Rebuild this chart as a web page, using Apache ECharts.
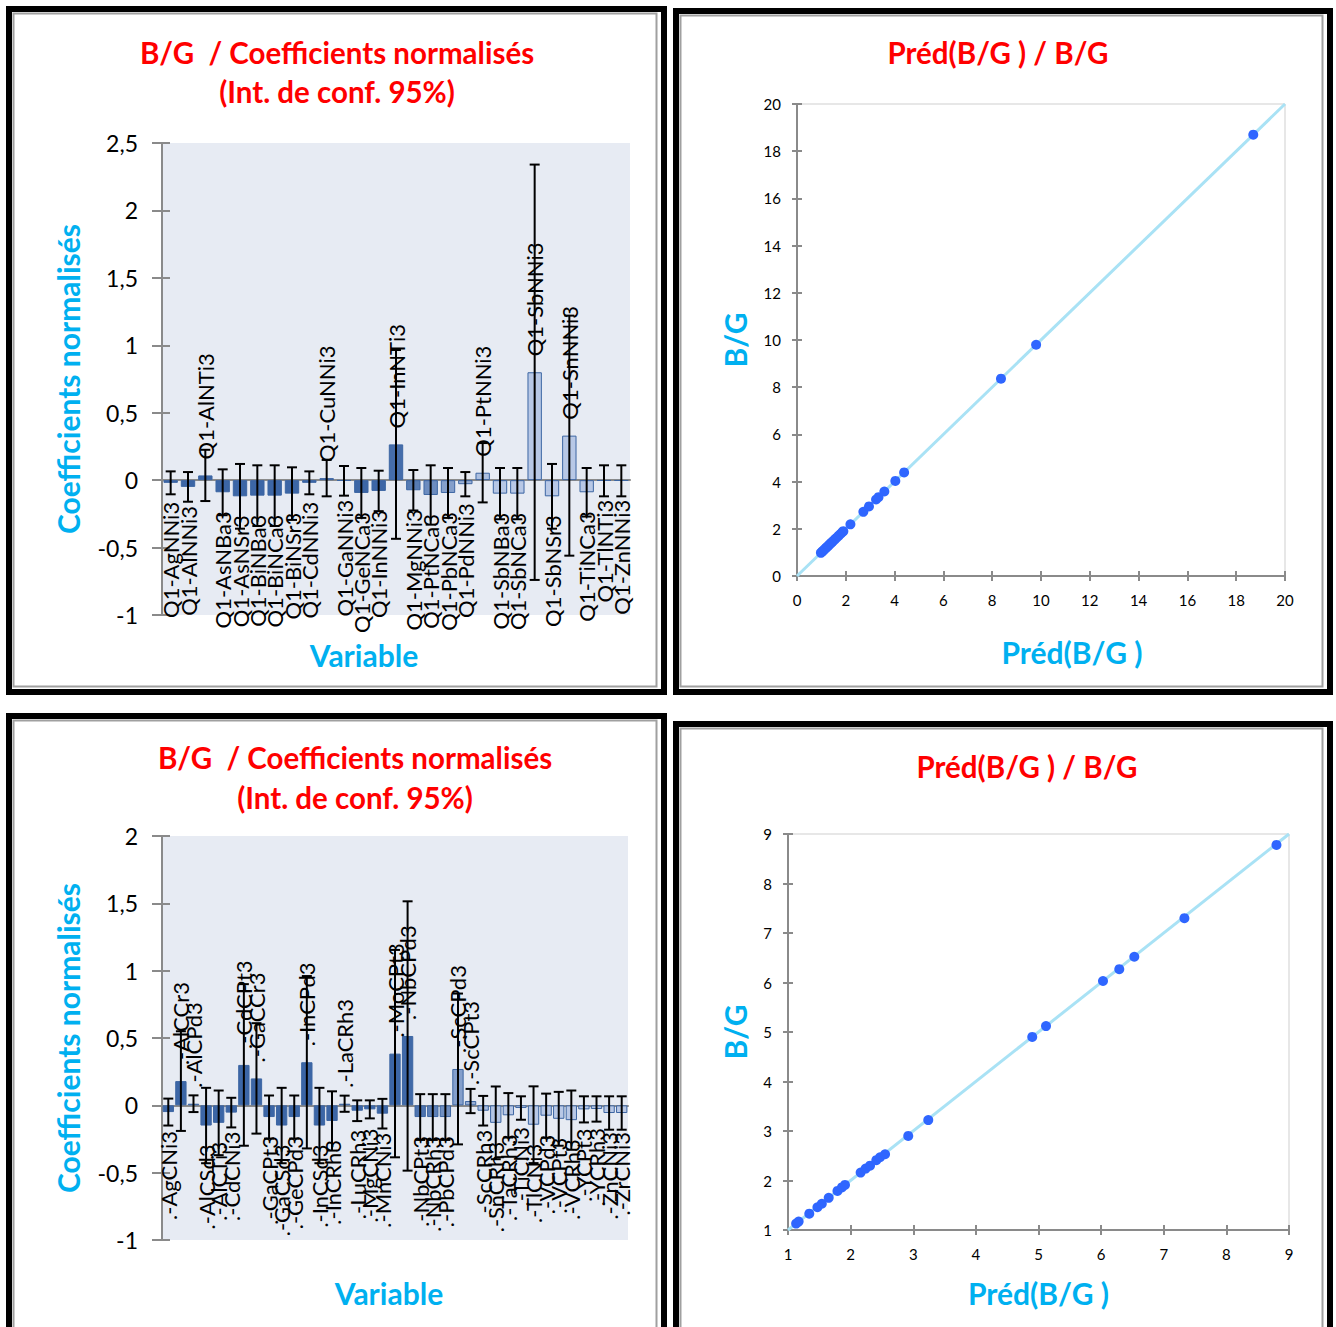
<!DOCTYPE html>
<html>
<head>
<meta charset="utf-8">
<script src="https://cdn.jsdelivr.net/npm/echarts@6/dist/echarts.min.js"></script>
<style>
html,body{margin:0;padding:0;background:#fff;}
#c{width:1336px;height:1327px;}
</style>
</head>
<body>
<div id="c"></div>
<script>
// ---------- DATA ----------
const tlCats = ['Q1-AgNNi3','Q1-AlNNi3','Q1-AlNTi3','Q1-AsNBa3','Q1-AsNSr3','Q1-BiNBa3','Q1-BiNCa3','Q1-BiNSr3','Q1-CdNNi3','Q1-CuNNi3','Q1-GaNNi3','Q1-GeNCa3','Q1-InNNi3','Q1-InNTi3','Q1-MgNNi3','Q1-PtNCa3','Q1-PbNCa3','Q1-PdNNi3','Q1-PtNNi3','Q1-SbNBa3','Q1-SbNCa3','Q1-SbNNi3','Q1-SbNSr3','Q1-SnNNi3','Q1-TiNCa3','Q1-TlNTi3','Q1-ZnNNi3'];
const tlVals = [-0.02,-0.05,0.035,-0.09,-0.12,-0.115,-0.115,-0.10,-0.02,0.015,-0.005,-0.095,-0.08,0.265,-0.075,-0.11,-0.095,-0.03,0.055,-0.10,-0.10,0.80,-0.12,0.33,-0.09,-0.005,-0.005];
const tlErr  = [0.085,0.11,0.19,0.17,0.24,0.225,0.225,0.195,0.085,0.135,0.11,0.185,0.15,0.70,0.15,0.22,0.185,0.09,0.22,0.19,0.19,1.54,0.24,0.89,0.18,0.115,0.115];

const blCats = ['.-AgCNi3','.-AlCCr3','.-AlCPd3','.-AlCSd3','.-AlCTi3','.-CdCNi3','.-CdCPt3','.-GaCCr3','.-GaCPt3','.-GaCSd3','.-GeCPd3','.-InCPd3','.-InCSd3','.-InCRh3','.-LaCRh3','.-LuCRh3','.-MgCNi3','.-MnCNi3','.-MoCPt3','.-NbCPd3','.-NbCPt3','.-NbCRh3','.-PbCPd3','.-ScCPd3','.-ScCPt3','.-ScCRh3','.-SnCRh3','.-TaCRh3','.-TiCNi3','.-TlCNi3','.-VCPd3','.-VCPt3','.-VCRh3','.-YCPt3','.-YCRh3','.-ZnCNi3','.-ZrCNi3'];
const blVals = [-0.05,0.18,0.012,-0.15,-0.13,-0.054,0.30,0.20,-0.087,-0.15,-0.087,0.32,-0.15,-0.116,0.012,-0.04,-0.03,-0.062,0.384,0.515,-0.087,-0.087,-0.087,0.27,0.032,-0.04,-0.13,-0.074,-0.02,-0.144,-0.077,-0.10,-0.11,-0.03,-0.027,-0.057,-0.057];
const blErr  = [0.10,0.37,0.062,0.28,0.24,0.11,0.60,0.41,0.16,0.28,0.16,0.64,0.28,0.22,0.06,0.077,0.067,0.11,0.77,1.0,0.17,0.17,0.17,0.56,0.09,0.11,0.27,0.165,0.087,0.285,0.164,0.20,0.22,0.097,0.094,0.124,0.124];

const trX = [0.98,1.03,1.08,1.13,1.18,1.23,1.28,1.33,1.38,1.43,1.48,1.55,1.62,1.70,1.78,1.86,1.90,2.19,2.72,2.95,3.24,3.34,3.58,4.03,4.39,8.36,9.80,18.7];
const trY = [0.98,1.03,1.08,1.13,1.18,1.23,1.28,1.33,1.38,1.43,1.48,1.55,1.62,1.70,1.78,1.86,1.90,2.19,2.72,2.95,3.24,3.34,3.58,4.03,4.39,8.36,9.80,18.7];
const trDiag = [[0,0],[20,20]];

const brX = [1.13,1.17,1.34,1.47,1.54,1.65,1.79,1.86,1.91,2.16,2.24,2.31,2.41,2.47,2.55,2.92,3.24,4.90,5.12,6.03,6.29,6.53,7.33,8.80];
const brY = [1.13,1.17,1.33,1.46,1.53,1.65,1.79,1.86,1.91,2.16,2.24,2.30,2.41,2.47,2.53,2.90,3.22,4.90,5.12,6.03,6.27,6.52,7.30,8.78];
const brDiag = [[1,1],[9,9]];

const titleBar1 = 'B/G  / Coefficients normalisés';
const titleBar2 = '(Int. de conf. 95%)';
const titleSc = 'Préd(B/G ) / B/G';

// ---------- STYLE HELPERS ----------
const FONT = 'Lato, "Open Sans", sans-serif';
const RED = '#ff0000', CYAN = '#00b0f0', AX = '#8a8a8a';
function shade(i, n, a, b) {
  const t = i / (n - 1);
  let k = Math.min(1, Math.max(0, (t - a) / (b - a)));
  k = k * k * (3 - 2 * k);
  const d = [60, 102, 166], l = [184, 200, 230];
  const c = d.map((v, j) => Math.round(v + (l[j] - v) * k));
  return 'rgb(' + c.join(',') + ')';
}
const commaFmt = v => String(v).replace('.', ',');

function barData(vals, a, b) {
  return vals.map((v, i) => ({
    value: v,
    itemStyle: { color: shade(i, vals.length, a, b), borderColor: '#3d66a3', borderWidth: 1 }
  }));
}
function errRender(cats) {
  return function (params, api) {
    const i = api.value(0), v = api.value(1), e = api.value(2);
    const t = api.coord([i, v + e]), bt = api.coord([i, v - e]), p = api.coord([i, v]);
    const x = p[0], cap = 5;
    const ls = { stroke: '#000', lineWidth: 2 };
    const pos = v >= 0;
    return {
      type: 'group',
      children: [
        { type: 'line', shape: { x1: x, y1: t[1], x2: x, y2: bt[1] }, style: ls },
        { type: 'line', shape: { x1: x - cap, y1: t[1], x2: x + cap, y2: t[1] }, style: ls },
        { type: 'line', shape: { x1: x - cap, y1: bt[1], x2: x + cap, y2: bt[1] }, style: ls },
        {
          type: 'text', x: x, y: pos ? p[1] - 16 : p[1] + 19, rotation: Math.PI / 2,
          style: { text: cats[i], fill: '#000', fontSize: 22, fontFamily: FONT,
                   align: pos ? 'left' : 'right', verticalAlign: 'middle' }
        }
      ]
    };
  };
}
function barYAxes(grid, min, max) {
  return [
    { type: 'value', gridIndex: grid, min: min, max: max, interval: 0.5, position: 'left',
      name: 'Coefficients normalisés', nameLocation: 'middle', nameGap: 79,
      nameTextStyle: { color: CYAN, fontSize: 30, fontWeight: 'bold', fontFamily: FONT },
      axisLine: { show: true, lineStyle: { color: AX, width: 2 } },
      axisTick: { show: true, length: 10, lineStyle: { color: AX, width: 2 } },
      axisLabel: { formatter: commaFmt, fontSize: 23, color: '#000', fontFamily: FONT, margin: 24 },
      splitLine: { show: false } },
    { type: 'value', gridIndex: grid, min: min, max: max, interval: 0.5, position: 'left',
      axisLine: { show: false }, axisLabel: { show: false }, splitLine: { show: false },
      axisTick: { show: true, inside: true, length: 8, lineStyle: { color: AX, width: 2 } } }
  ];
}
function barXAxes(grid, cats, gap, pad) {
  return [
    { type: 'category', gridIndex: grid, data: cats,
      axisLine: { onZero: true, lineStyle: { color: AX, width: 2 } },
      axisTick: { show: false }, axisLabel: { show: false } },
    { type: 'category', gridIndex: grid, data: cats, position: 'bottom',
      axisLine: { show: false, onZero: false }, axisTick: { show: false }, axisLabel: { show: false },
      name: 'Variable', nameLocation: 'middle', nameGap: gap,
      nameTextStyle: { color: CYAN, fontSize: 30, fontWeight: 'bold', fontFamily: FONT, padding: pad } }
  ];
}
function scAxes(grid, min, max, interval, nameX, nameY, gapX, gapY, padX) {
  const lab = { fontSize: 15, color: '#000', fontFamily: FONT, margin: 16 };
  const line = { show: true, lineStyle: { color: AX, width: 2 } };
  const nts = { color: CYAN, fontSize: 30, fontWeight: 'bold', fontFamily: FONT };
  return {
    x: [
      { type: 'value', gridIndex: grid, min, max, interval, axisLine: line, splitLine: { show: false },
        axisTick: { show: true, length: 5, lineStyle: { color: AX, width: 2 } }, axisLabel: lab,
        name: nameX, nameLocation: 'middle', nameGap: gapX, nameTextStyle: Object.assign({ padding: padX }, nts) },
      { type: 'value', gridIndex: grid, min, max, interval, position: 'bottom', axisLine: { show: false },
        splitLine: { show: false }, axisLabel: { show: false },
        axisTick: { show: true, inside: true, length: 5, lineStyle: { color: AX, width: 2 } } }
    ],
    y: [
      { type: 'value', gridIndex: grid, min, max, interval, axisLine: line, splitLine: { show: false },
        axisTick: { show: true, length: 5, lineStyle: { color: AX, width: 2 } }, axisLabel: lab,
        name: nameY, nameLocation: 'middle', nameGap: gapY, nameTextStyle: nts },
      { type: 'value', gridIndex: grid, min, max, interval, position: 'left', axisLine: { show: false },
        splitLine: { show: false }, axisLabel: { show: false },
        axisTick: { show: true, inside: true, length: 5, lineStyle: { color: AX, width: 2 } } }
    ]
  };
}

const tlX = barXAxes(0, tlCats, 25, [0, 64, 0, 0]);
const blX = barXAxes(1, blCats, 38, [0, 12, 0, 0]);
const tlY = barYAxes(0, -1, 2.5);
const blY = barYAxes(1, -1, 2);
const trA = scAxes(2, 0, 20, 2, 'Préd(B/G )', 'B/G', 61, 47, [0, 0, 0, 62]);
const brA = scAxes(3, 1, 9, 1, 'Préd(B/G )', 'B/G', 48, 38, [0, 0, 0, 0]);

const xAxes = [].concat(tlX, blX, trA.x, brA.x);   // indices 0,1 | 2,3 | 4,5 | 6,7
const yAxes = [].concat(tlY, blY, trA.y, brA.y);

function ttl(text, x, y) {
  return { type: 'text', x: x, y: y, z: 10,
    style: { text: text, fill: RED, fontSize: 29.5, fontWeight: 'bold', fontFamily: FONT, align: 'center', verticalAlign: 'middle' } };
}
function frame(x, y, w, h) {
  return [
    { type: 'rect', shape: { x: x + 3, y: y + 3, width: w - 6, height: h - 6 }, z: 20,
      style: { fill: 'none', stroke: '#000', lineWidth: 6 } },
    { type: 'rect', shape: { x: x + 7.5, y: y + 7.5, width: w - 18, height: h - 16 }, z: 20,
      style: { fill: 'none', stroke: '#a0a0a0', lineWidth: 2 } }
  ];
}

const option = {
  animation: false,
  backgroundColor: '#fff',
  grid: [
    { left: 162, top: 143, width: 468, height: 472, show: true, backgroundColor: '#e7ebf3', borderWidth: 0 },
    { left: 162, top: 836, width: 466, height: 404, show: true, backgroundColor: '#e7ebf3', borderWidth: 0 },
    { left: 797, top: 104, width: 488, height: 472, show: true, borderColor: '#cfcfcf', borderWidth: 1 },
    { left: 788, top: 834, width: 501, height: 396, show: true, borderColor: '#cfcfcf', borderWidth: 1 }
  ],
  xAxis: xAxes,
  yAxis: yAxes,
  graphic: [].concat(
    frame(6, 6, 661, 689), frame(673, 8, 660, 687), frame(6, 713, 661, 700), frame(673, 721, 660, 700),
    [ttl(titleBar1, 337, 52), ttl(titleBar2, 337, 91), ttl(titleSc, 998, 52),
     ttl(titleBar1, 355, 757), ttl(titleBar2, 355, 797), ttl(titleSc, 1027, 766)]
  ),
  series: [
    { type: 'bar', xAxisIndex: 0, yAxisIndex: 0, data: barData(tlVals, 0.45, 0.75), barCategoryGap: '17%', z: 2 },
    { type: 'custom', xAxisIndex: 0, yAxisIndex: 0, renderItem: errRender(tlCats),
      data: tlVals.map((v, i) => [i, v, tlErr[i]]), z: 5, clip: false },
    { type: 'bar', xAxisIndex: 2, yAxisIndex: 2, data: barData(blVals, 0.5, 0.75), barCategoryGap: '10%', z: 2 },
    { type: 'custom', xAxisIndex: 2, yAxisIndex: 2, renderItem: errRender(blCats),
      data: blVals.map((v, i) => [i, v, blErr[i]]), z: 5, clip: false },
    { type: 'line', xAxisIndex: 4, yAxisIndex: 4, data: trDiag, symbol: 'none',
      lineStyle: { color: '#a9e2f5', width: 3 }, z: 2 },
    { type: 'scatter', xAxisIndex: 4, yAxisIndex: 4, data: trX.map((x, i) => [x, trY[i]]),
      symbolSize: 10, itemStyle: { color: '#2f66ff', opacity: 1 }, z: 3 },
    { type: 'line', xAxisIndex: 6, yAxisIndex: 6, data: brDiag, symbol: 'none',
      lineStyle: { color: '#a9e2f5', width: 3 }, z: 2 },
    { type: 'scatter', xAxisIndex: 6, yAxisIndex: 6, data: brX.map((x, i) => [x, brY[i]]),
      symbolSize: 10, itemStyle: { color: '#2f66ff', opacity: 1 }, z: 3 }
  ]
};

const chart = echarts.init(document.getElementById('c'), null, { renderer: 'svg', width: 1336, height: 1327 });
chart.setOption(option);
</script>
</body>
</html>
